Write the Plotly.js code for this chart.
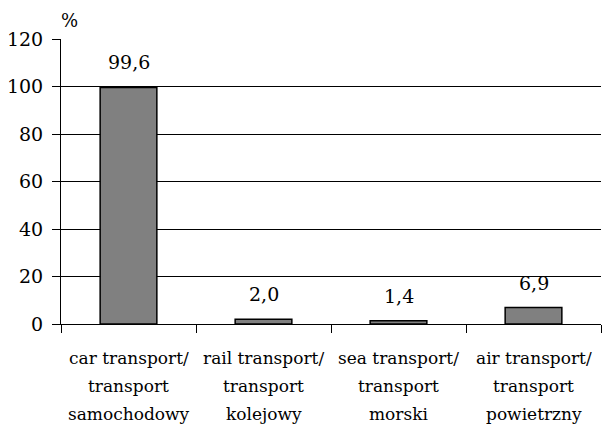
<!DOCTYPE html>
<html>
<head>
<meta charset="utf-8">
<script src="https://cdn.plot.ly/plotly-3.0.1.min.js"></script>
<style>html,body{margin:0;padding:0;background:#fff}#chart{width:603px;height:433px}</style>
</head>
<body>
<div id="chart"></div>
<script>
var categories = ["car", "rail", "sea", "air"];
var labelLine1 = ["car transport/", "rail transport/", "sea transport/", "air transport/"];
var labelLine2 = ["transport", "transport", "transport", "transport"];
var labelLine3 = ["samochodowy", "kolejowy", "morski", "powietrzny"];
var values = [99.6, 2.0, 1.4, 6.9];
var valueLabels = ["99,6", "2,0", "1,4", "6,9"];
var yTicks = [0, 20, 40, 60, 80, 100, 120];

var font = "DejaVu Serif";

var trace = {
  type: "bar",
  x: categories,
  y: values,
  marker: {color: "#808080", line: {color: "#000", width: 1.5}},
  width: 0.42,
  hoverinfo: "none"
};

var annotations = values.map(function (v, i) {
  return {
    x: categories[i], y: v, xref: "x", yref: "y",
    text: valueLabels[i], showarrow: false,
    yanchor: "bottom", yshift: 12,
    font: {family: font, size: 19, color: "#000"}
  };
});
[labelLine1, labelLine2, labelLine3].forEach(function (line, li) {
  line.forEach(function (t, i) {
    annotations.push({
      x: categories[i], y: 0, xref: "x", yref: "paper",
      text: t, showarrow: false, yanchor: "middle",
      yshift: -34 - 28 * li,
      font: {family: font, size: 17, color: "#000"}
    });
  });
});
annotations.push({
  xref: "paper", yref: "paper", x: 0, y: 1, xanchor: "left", yanchor: "bottom",
  xshift: -2, yshift: 6,
  text: "%", showarrow: false, font: {family: font, size: 18, color: "#000"}
});

var layout = {
  width: 603, height: 433,
  margin: {l: 61, r: 2, t: 39, b: 109},
  paper_bgcolor: "#fff", plot_bgcolor: "#fff",
  showlegend: false,
  font: {family: font, color: "#000"},
  xaxis: {
    type: "category",
    tickson: "boundaries",
    ticks: "outside", ticklen: 8, tickcolor: "#000", tickwidth: 1,
    showline: true, linecolor: "#000", linewidth: 1,
    showgrid: false, zeroline: false,
    showticklabels: false,
    fixedrange: true
  },
  yaxis: {
    range: [0, 120],
    tickvals: yTicks,
    ticktext: yTicks.map(String),
    ticks: "outside", ticklen: 8, tickcolor: "#000", tickwidth: 1,
    showline: true, linecolor: "#000", linewidth: 1,
    showgrid: true, gridcolor: "#000", gridwidth: 1,
    zeroline: false,
    ticklabelstandoff: 5,
    tickfont: {family: font, size: 19, color: "#000"},
    fixedrange: true
  },
  annotations: annotations
};

Plotly.newPlot("chart", [trace], layout, {staticPlot: true, displayModeBar: false});
</script>
</body>
</html>
